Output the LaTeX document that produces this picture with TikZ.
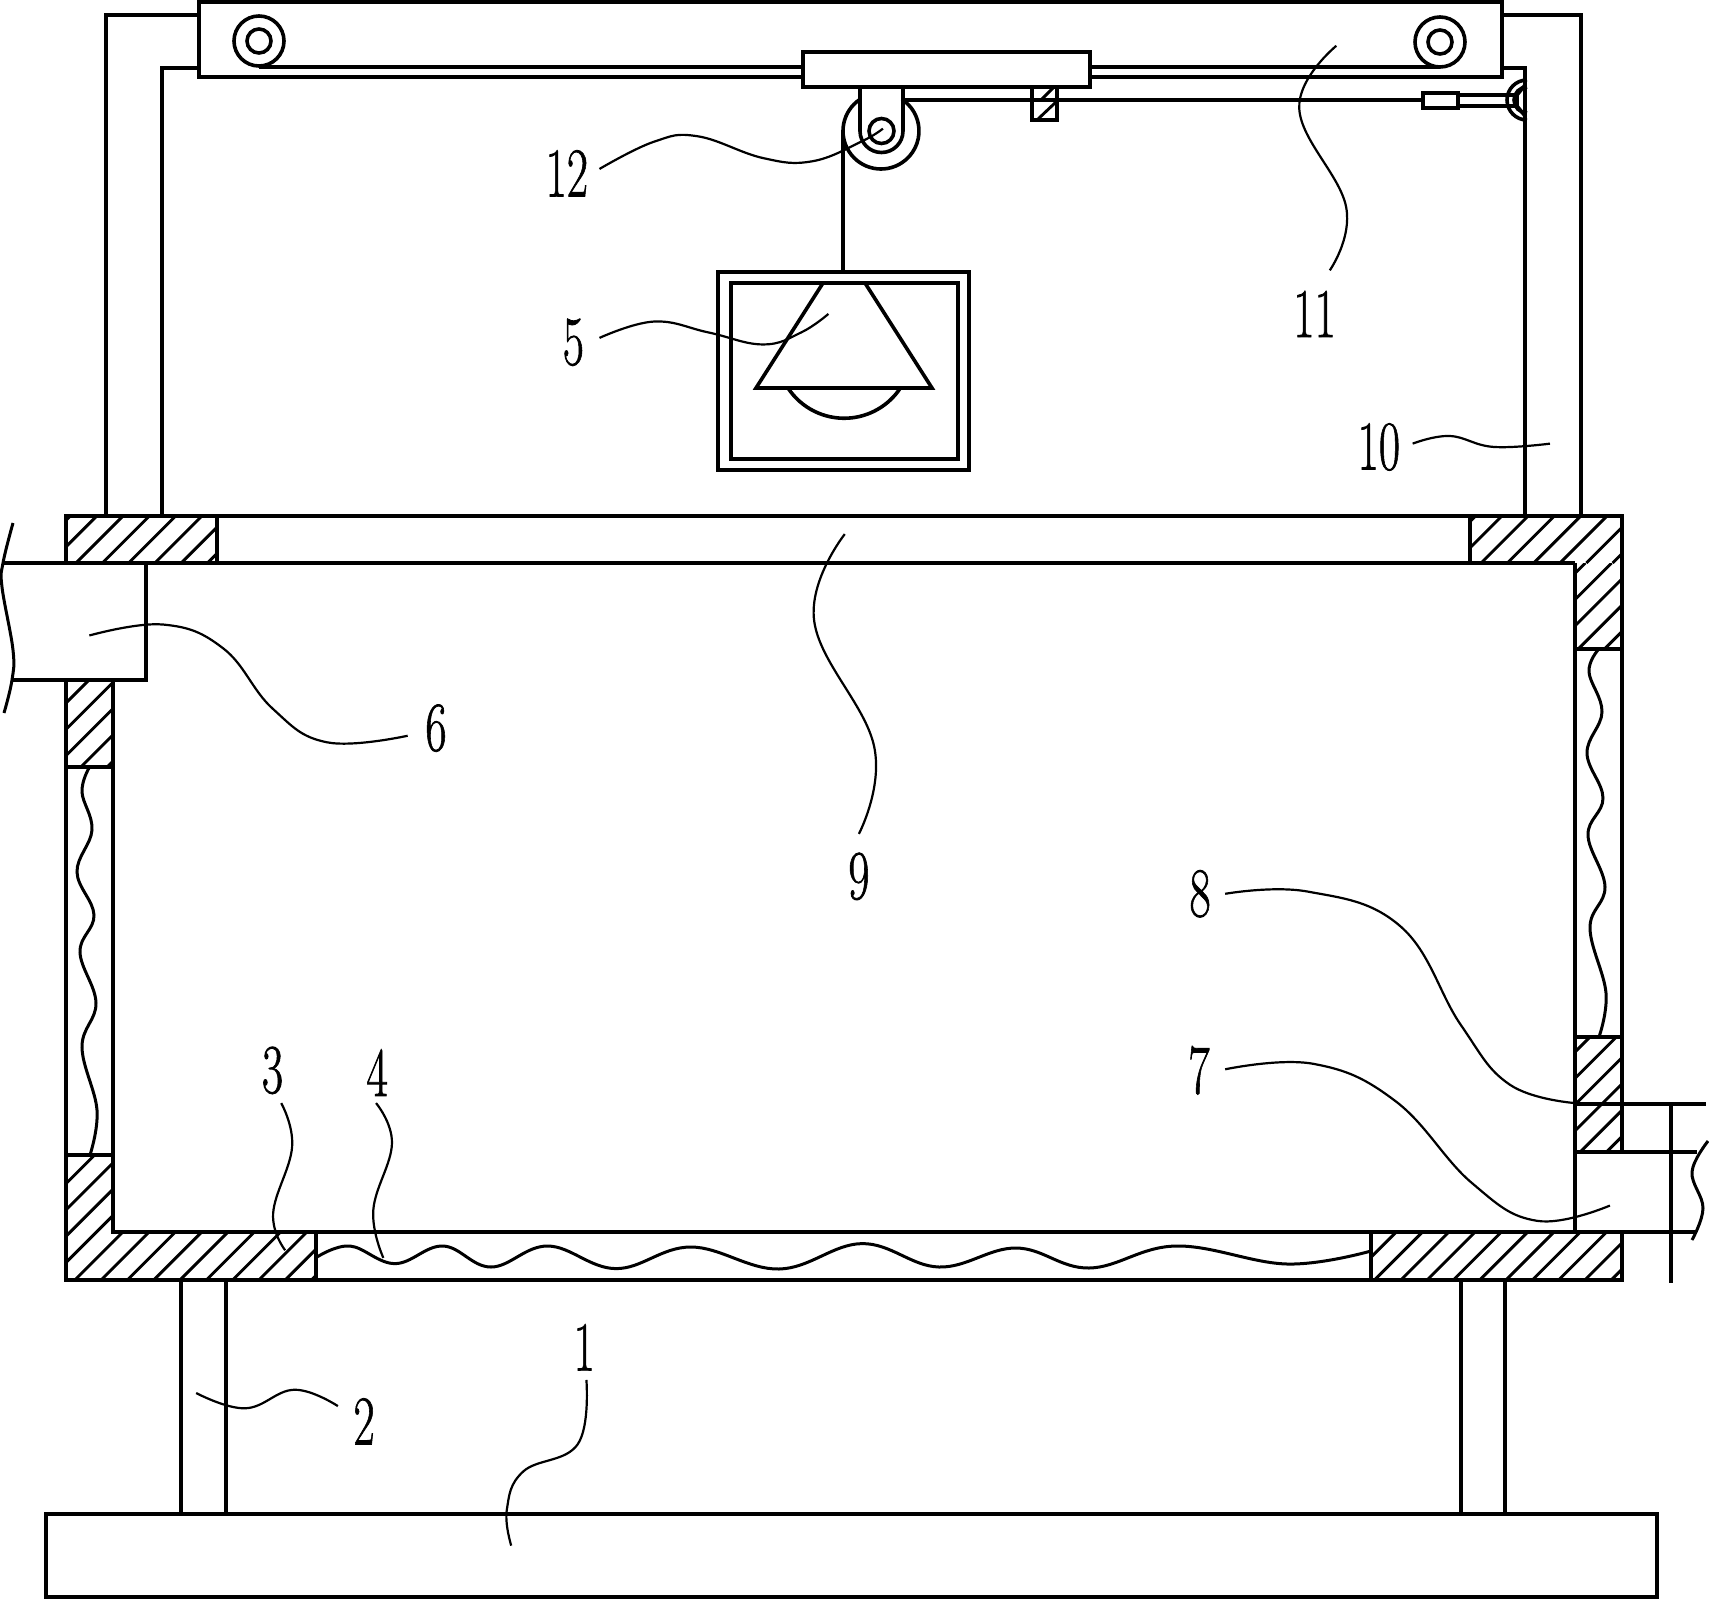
\documentclass[tikz,border=0pt]{standalone}
\usepackage{graphicx}
\usepackage{fontspec}
\newfontfamily\lblfont[FakeBold=1.2]{Latin Modern Roman}
\newcommand{\lbltext}[1]{\scalebox{.66}[1]{\lblfont\fontsize{70}{70}\selectfont #1}}
% x1 y1 x2 y2 offset (x+y mod period)
\newcommand{\hatchfill}[5]{%
  \begin{scope}
    \clip (#1,#2) rectangle (#3,#4);
    \pgfmathsetmacro{\hsum}{#1+#2}
    \pgfmathsetmacro{\hend}{#3+#4}
    \pgfmathsetmacro{\hfirst}{#5+26.3*floor((\hsum-#5)/26.3)}
    \pgfmathsetmacro{\hsecond}{\hfirst+26.3}
    \foreach \s in {\hfirst,\hsecond,...,\hend} {
      \draw[hatchline] ({\s-#2},#2) -- ({\s-#4},#4);
    }
  \end{scope}
}
\newcommand{\hatchbox}[5]{%
  \hatchfill{#1}{#2}{#3}{#4}{#5}
  \draw[part] (#1,#2) rectangle (#3,#4);
}
\tikzset{
  part/.style={draw=black,line width=3.6pt,line join=miter},
  hatchline/.style={draw=black,line width=2.9pt},
  leader/.style={draw=black,line width=2.2pt,smooth,tension=.7},
  brk/.style={draw=black,line width=3pt,smooth,tension=.65},
  lbl/.style={inner sep=0pt,text=black}
}
\begin{document}
\begin{tikzpicture}[x=1pt,y=-1pt]
\useasboundingbox (0,0) rectangle (1709,1599);
% outer frame
\draw[part] (106,516) -- (106,15) -- (199,15);
\draw[part] (1502,15) -- (1581,15) -- (1581,516);
\draw[part] (162,516) -- (162,68) -- (199,68);
\draw[part] (1502,68) -- (1525,68) -- (1525,516);
% rail
\draw[part] (199,2) rectangle (1502,77);
\draw[part] (259,41) circle (25) (259,41) circle (12);
\draw[part] (1440,42) circle (25) (1440,42) circle (12);
\draw[part] (259,67) -- (803,67) (1090,67) -- (1440,67);
\draw[part,fill=white] (803,52) rectangle (1090,87);
% bracket, pulley
\draw[part] (881,131) ++(236.5:38) arc (236.5:-56.5:38);
\draw[part] (860,87) -- (860,131) arc (180:0:21.5) -- (903,87);
\draw[part] (881.5,131) circle (12.5);
\draw[part] (843,131) -- (843,272);
\draw[part] (903,100) -- (1423,100);
% block
\draw[hatchline] (1053,88) -- (1041,100);
\draw[hatchline] (1056,102) -- (1037,120);
\draw[part] (1032,87) rectangle (1057,120);
% hook end
\draw[part] (1423,93) rectangle (1458,108);
\draw[part] (1458,95) -- (1517,95) -- (1517,106) -- (1458,106);
\draw[part] (1525,85) -- (1517,95) (1525,116) -- (1517,106);
\draw[part] (1527,80) arc (270:90:20 and 20);
\draw[part] (1527,87) arc (270:90:13 and 13);
% lamp
\draw[part] (718,272) rectangle (969,470);
\draw[part] (731,283) rectangle (958,459);
\draw[part] (823,283) -- (756,388) -- (932,388) -- (865,283);
\draw[part] (788,388) arc (146.6:33.4:67.3);
% box: hatched parts
\hatchbox{66}{516}{217}{563}{7.8}
\hatchfill{1470}{516}{1622}{563}{19}
\hatchfill{1575}{563}{1622}{649}{18}
\draw[part] (1470,563) -- (1470,516) -- (1622,516) -- (1622,649) -- (1575,649) -- (1575,563);
\hatchbox{66}{680}{113}{767}{6.3}
\hatchfill{66}{1155}{113}{1280}{13.5}
\hatchfill{113}{1232}{316}{1280}{13.5}
\draw[part] (113,1232) -- (113,1155) -- (66,1155) -- (66,1280) -- (316,1280) -- (316,1232) -- cycle;
\hatchfill{1371}{1232}{1622}{1280}{24.5}
\draw[part] (1371,1232) rectangle (1622,1280);
\hatchbox{1575}{1037}{1622}{1152}{23.3}
% box: plain walls
\draw[part] (217,516) -- (1470,516) (2,563) -- (1575,563);
\draw[part] (66,767) -- (66,1155) (113,680) -- (113,1232) (1575,649) -- (1575,1037) (1622,649) -- (1622,1037);
\draw[part] (316,1280) -- (1371,1280) (316,1232) -- (1371,1232);
% left pipe
\draw[part,fill=white] (2,563) -- (146,563) -- (146,680) -- (12,680);
\draw[part] (66,516) -- (217,516);
% right pipe
\draw[part] (1575,1152) -- (1575,1232);
\draw[part] (1575,1104) -- (1706,1104);
\draw[part] (1622,1152) -- (1697,1152);
\draw[part] (1622,1232) -- (1695,1232);
\draw[part] (1671,1104) -- (1671,1283);
% break lines
\draw[brk] plot coordinates {(13,523) (3,563) (2,587) (13,650) (12,680) (4,713)};
\draw[brk] plot coordinates {(1708,1141) (1692,1172) (1703,1208) (1692,1240)};
\draw[brk] plot coordinates {(317,1257) (350,1246) (395,1263.6) (443,1246) (491,1267) (548,1246) (616,1268.6) (691,1247) (779,1269) (862,1243.6) (939,1267) (1016,1248) (1089,1268) (1176,1246) (1287,1264) (1371,1251)};
\draw[brk] plot coordinates {(89,768) (82,792) (92,830) (77,872) (94,915) (80,952) (96,1003) (82,1047) (97,1110) (90,1155)};
\draw[brk] plot coordinates {(1598,650) (1589,672) (1602,712) (1587,753) (1603,798) (1588,835) (1605,887) (1590,928) (1606,993) (1599,1037)};
% legs and base
\draw[part] (181,1280) -- (181,1514) (226,1280) -- (226,1514);
\draw[part] (1461,1280) -- (1461,1514) (1505,1280) -- (1505,1514);
\draw[part] (46,1514) rectangle (1657,1597);
% leader lines and labels (coordinates in displayed scale)
\begin{scope}[x=1.09pt,y=-1.09pt]
\draw[leader] plot coordinates {(550,155) (600,130) (640,125) (700,145) (745,148) (790,130) (810,118)};
\draw[leader] plot coordinates {(1226,42) (1192,100) (1235,190) (1220,248)};
\draw[leader] plot coordinates {(550,310) (600,295) (650,305) (700,316) (735,305) (760,288)};
\draw[leader] plot coordinates {(1296,407) (1330,400) (1370,410) (1422,407)};
\draw[leader] plot coordinates {(775,490) (747,570) (802,685) (788,765)};
\draw[leader] plot coordinates {(82,583) (150,573) (205,595) (250,650) (300,681) (374,675)};
\draw[leader] plot coordinates {(1124,820) (1200,818) (1285,850) (1340,940) (1385,995) (1445,1012)};
\draw[leader] plot coordinates {(1124,981) (1205,976) (1280,1010) (1350,1085) (1410,1120) (1477,1106)};
\draw[leader] plot coordinates {(258,1012) (268,1052) (250.6,1113) (261.6,1147)};
\draw[leader] plot coordinates {(345,1012) (359.6,1049) (342.5,1110) (351.7,1154)};
\draw[leader] plot coordinates {(180,1278) (225,1292) (270,1275) (310,1290)};
\draw[leader] plot coordinates {(538,1266) (530,1325) (480,1350) (465,1385) (469,1418)};
\node[lbl] (l12) at (520,159) {\lbltext{12}};
\node[lbl] (l11) at (1206,288) {\lbltext{11}};
\node[lbl] (l5) at (526,314) {\lbltext{5}};
\node[lbl] (l10) at (1265,410) {\lbltext{10}};
\node[lbl] (l9) at (788,804) {\lbltext{9}};
\node[lbl] (l6) at (400,668) {\lbltext{6}};
\node[lbl] (l8) at (1101,820) {\lbltext{8}};
\node[lbl] (l7) at (1100,982) {\lbltext{7}};
\node[lbl] (l3) at (250,982) {\lbltext{3}};
\node[lbl] (l4) at (346,984) {\lbltext{4}};
\node[lbl] (l2) at (334,1304) {\lbltext{2}};
\node[lbl] (l1) at (536,1236) {\lbltext{1}};
\end{scope}
\end{tikzpicture}
\end{document}
